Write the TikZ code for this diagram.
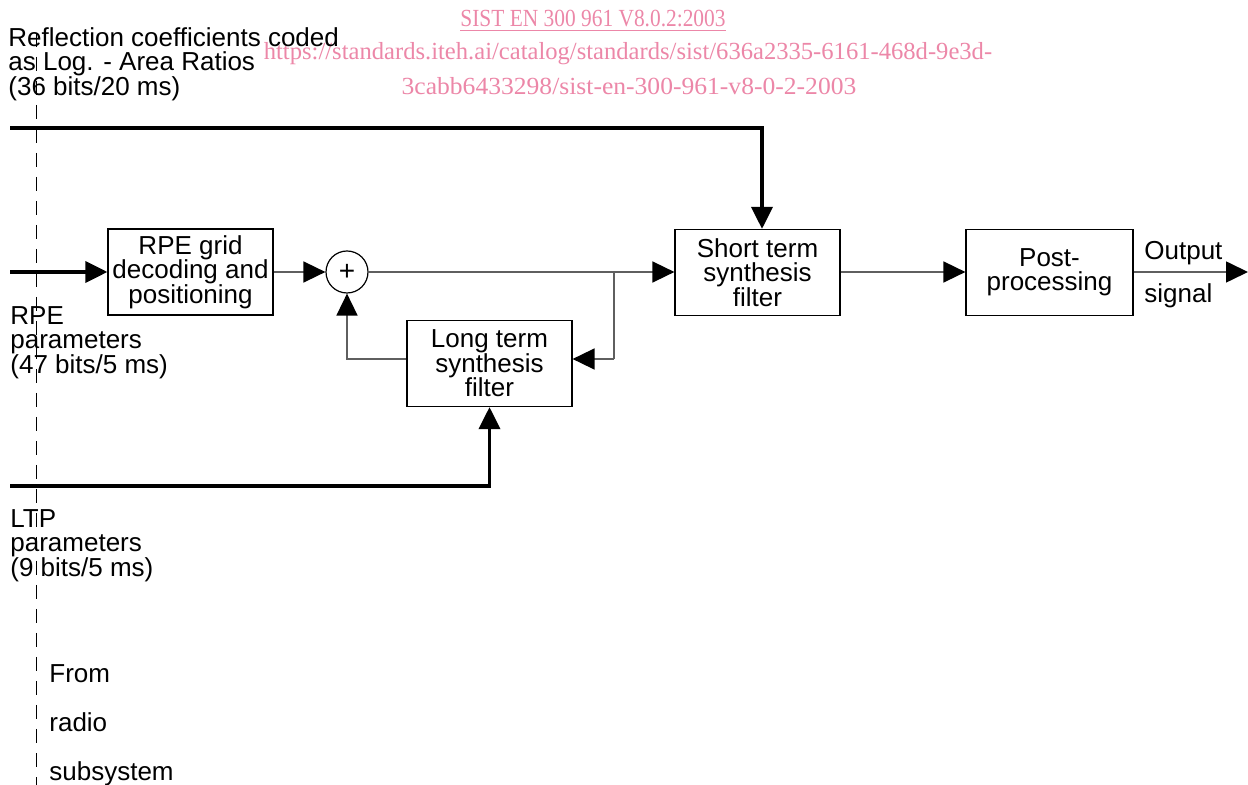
\documentclass[tikz,border=0pt]{standalone}
\usepackage{fontspec}
\setmainfont{Liberation Sans}
\newfontfamily\wmfont{Liberation Serif}
\usetikzlibrary{arrows.meta}
\definecolor{wmpink}{RGB}{236,135,168}
\definecolor{lgray}{RGB}{95,95,95}
\begin{document}
\begin{tikzpicture}[x=0.5pt,y=-0.5pt,
  txt/.style={font=\fontsize{13}{12.3}\selectfont, inner sep=0pt, align=left, anchor=north west},
  box/.style={draw=black, line width=0.6pt, minimum width=82.5pt, minimum height=43pt, align=center, inner sep=0pt, font=\fontsize{13}{12.25}\selectfont},
  conn/.style={draw=lgray, line width=0.8pt, -{Triangle[length=11pt,width=10.5pt,color=black]}},
  plain/.style={draw=lgray, line width=0.8pt},
  thickconn/.style={draw=black, line width=1.8pt, -{Triangle[length=11pt,width=10.5pt]}},
  wm/.style={text=wmpink, inner sep=0pt}
]
\useasboundingbox (0,0) rectangle (1248,785);

% watermark
\node[wm, font=\wmfont\fontsize{12.3}{12}\selectfont] (wm1) at (593,21) {\scalebox{0.87}[1]{\underline{SIST EN 300 961 V8.0.2:2003}}};
\node[wm, font=\wmfont\fontsize{12.3}{12}\selectfont] (wm2) at (628,54) {https://standards.iteh.ai/catalog/standards/sist/636a2335-6161-468d-9e3d-};
\node[wm, font=\wmfont\fontsize{12.3}{12}\selectfont] (wm3) at (629,86) {\scalebox{1.04}[1]{3cabb6433298/sist-en-300-961-v8-0-2-2003}};

% dashed boundary
\coordinate (dtop) at (36,33);
\coordinate (dbot) at (36,785);
\draw[black, line width=0.5pt, dash pattern=on 7pt off 5pt] (dtop) -- (dbot);

% blocks
\node[box] (rpe) at (190.5,272) {RPE grid\\decoding and\\positioning};
\node[circle, draw=black, line width=0.6pt, minimum size=21pt, inner sep=0pt, font=\fontsize{14}{12}\selectfont] (sum) at (347,272) {+};
\node[box] (lt) at (489.5,363.5) {Long term\\synthesis\\filter};
\node[box] (st) at (757.5,272.5) {Short term\\synthesis\\filter};
\node[box, minimum width=83.5pt] (pp) at (1049.5,272.5) {Post-\\processing};

% labels
\node[txt] (refl) at (8,27) {Reflection coefficients coded\\as Log. - Area Ratios\\(36 bits/20 ms)};
\node[txt] (rpel) at (10,306) {RPE\\parameters\\(47 bits/5 ms)};
\node[txt] (ltpl) at (10,509) {LTP\\parameters\\(9 bits/5 ms)};
\node[txt, font=\fontsize{13}{24.5}\selectfont] (from) at (49,664) {From\\radio\\subsystem};
\node[txt] (outl) at (1144,241) {Output};
\node[txt] (sigl) at (1144,283) {signal};

% connectors
\coordinate (rcin) at (10,128);
\coordinate (rpin) at (10,272);
\coordinate (ltpin) at (10,486);
\coordinate (j) at (614,272);
\coordinate (fb) at (614,359);
\coordinate (out) at (1248,272);

\draw[thickconn] (rcin) -| ([xshift=2.25pt]st.north);
\draw[thickconn] (rpin) -- (rpe.west);
\draw[thickconn] (ltpin) -| (lt.south);

\draw[conn] (rpe.east) -- (sum.west);
\draw[conn] (sum.east) -- (sum.east -| st.west);
\draw[plain] (j) -- (fb);
\draw[conn] (fb) -- (fb -| lt.east);
\draw[conn] (fb -| lt.west) -| (sum.south);
\draw[conn] (st.east |- j) -- (j -| pp.west);
\draw[conn] (pp.east |- j) -- (out);
\end{tikzpicture}
\end{document}
